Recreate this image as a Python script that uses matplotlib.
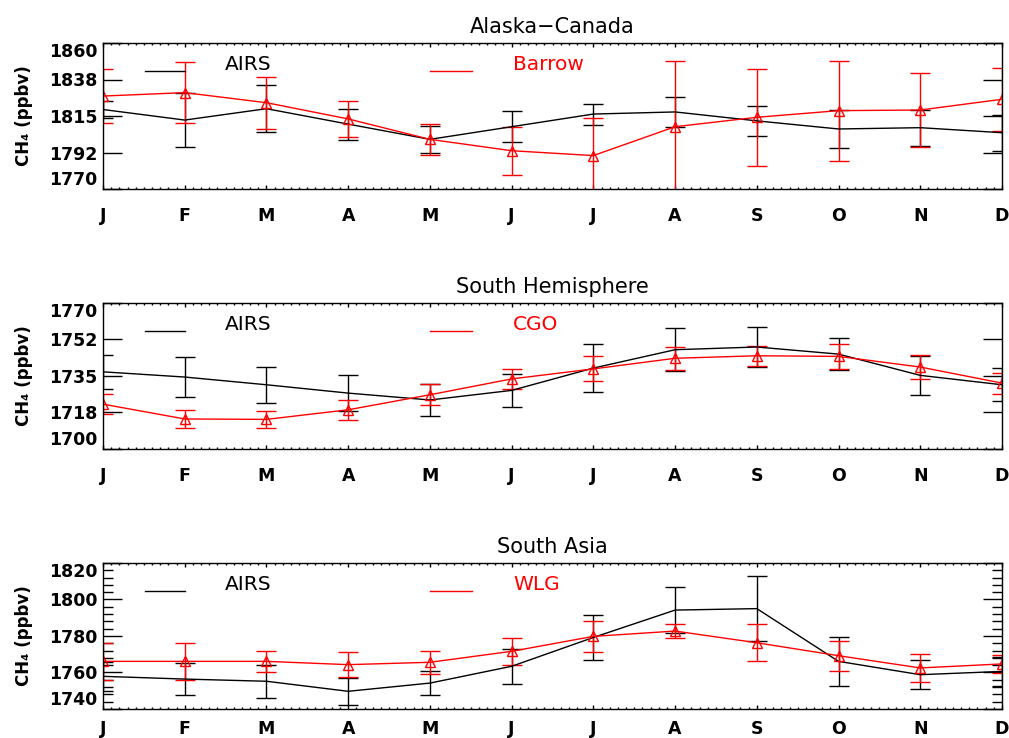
import numpy as np
import matplotlib
matplotlib.use('Agg')
import matplotlib.pyplot as plt
from matplotlib.ticker import FixedLocator, MultipleLocator

# dados mensais (ppbv)
months = ['J', 'F', 'M', 'A', 'M', 'J', 'J', 'A', 'S', 'O', 'N', 'D']

titles = ['Alaska\u2212Canada', 'South Hemisphere', 'South Asia']
station_names = ['Barrow', 'CGO', 'WLG']

# Alaska-Canada
airs_ak = [1819.0, 1812.5, 1819.5, 1810.0, 1800.6, 1808.4, 1816.2, 1817.5, 1812.0, 1807.0, 1807.8, 1804.7]
airs_ak_err = [5.0, 16.8, 14.4, 9.6, 8.2, 9.6, 6.5, 9.5, 9.1, 11.5, 11.1, 11.0]
brw = [1827.3, 1829.4, 1823.2, 1813.2, 1800.6, 1793.6, 1790.6, 1808.4, 1814.2, 1818.3, 1818.7, 1825.3]
brw_err = [16.5, 19.0, 16.1, 11.2, 9.5, 14.9, 23.0, 40.5, 30.0, 30.8, 22.8, 19.5]

# South Hemisphere
airs_sh = [1737.0, 1734.5, 1730.8, 1726.8, 1723.5, 1728.1, 1738.8, 1747.6, 1748.9, 1745.5, 1735.3, 1730.8]
airs_sh_err = [8.0, 9.8, 8.6, 8.6, 7.6, 8.0, 11.5, 10.3, 9.6, 7.7, 9.3, 8.0]
cgo = [1721.5, 1714.4, 1714.2, 1718.8, 1726.0, 1733.6, 1738.4, 1743.5, 1744.7, 1744.4, 1739.3, 1731.6]
cgo_err = [4.8, 4.3, 4.1, 4.9, 5.0, 4.6, 6.0, 5.4, 4.8, 6.1, 5.6, 5.0]

# South Asia
airs_sa = [1757.9, 1756.4, 1755.2, 1749.7, 1754.2, 1763.4, 1779.2, 1794.2, 1795.0, 1766.1, 1758.8, 1760.6]
airs_sa_err = [8.0, 9.0, 9.1, 7.5, 6.4, 9.7, 12.1, 12.5, 17.7, 13.3, 7.9, 8.0]
wlg = [1766.1, 1766.1, 1766.1, 1764.3, 1765.6, 1771.6, 1779.8, 1782.7, 1776.3, 1769.2, 1762.5, 1764.7]
wlg_err = [10.2, 10.0, 5.6, 6.7, 6.2, 7.3, 8.6, 3.8, 10.2, 8.2, 7.9, 5.0]

ylims = [(1770, 1860), (1700, 1770), (1740, 1820)]
ytick_labels = [['1770', '1792', '1815', '1838', '1860'],
                ['1700', '1718', '1735', '1752', '1770'],
                ['1740', '1760', '1780', '1800', '1820']]
yminor = [False, False, True]

airs_all = [(airs_ak, airs_ak_err), (airs_sh, airs_sh_err), (airs_sa, airs_sa_err)]
stations_all = [(brw, brw_err), (cgo, cgo_err), (wlg, wlg_err)]

W, H = 1009, 738
fig = plt.figure(figsize=(W / 100, H / 100), dpi=100)

# eixos: topo em pixels 43, 303, 563 ; altura 146 px
tops = [43, 303, 563]
xpads = [13, 13, 8]   # o ultimo painel fica colado na borda de baixo
x = np.arange(len(months))

for i in range(3):
    top = tops[i]
    ax = fig.add_axes([103 / W, 1 - (top + 146) / H, 899 / W, 146 / H])

    a, ae = airs_all[i]
    s, se = stations_all[i]

    ax.errorbar(x, a, yerr=ae, color='black', lw=1.0, elinewidth=1.0,
                capsize=7.5, capthick=1.0)
    ax.errorbar(x, s, yerr=se, color='red', lw=1.0, elinewidth=1.0,
                capsize=7.5, capthick=1.0, marker='^', mfc='none',
                mec='red', ms=7, mew=1.0)

    ax.set_xlim(0, 11)
    ax.set_ylim(*ylims[i])

    yt = np.linspace(ylims[i][0], ylims[i][1], 5)
    ax.yaxis.set_major_locator(FixedLocator(yt))
    ax.set_yticklabels(ytick_labels[i], fontsize=12.5, fontweight='bold')
    labs = ax.get_yticklabels()
    labs[0].set_va('bottom')
    labs[-1].set_va('top')
    if yminor[i]:
        ax.yaxis.set_minor_locator(MultipleLocator(4))

    ax.set_xticks(x)
    ax.set_xticklabels(months, fontsize=12.5, fontweight='bold')
    ax.xaxis.set_minor_locator(MultipleLocator(0.1))

    ax.tick_params(axis='x', which='major', direction='in', length=3,
                   width=1, top=True, pad=xpads[i])
    ax.tick_params(axis='x', which='minor', direction='in', length=1.5,
                   width=1, top=True)
    ax.tick_params(axis='y', which='major', direction='in', length=14,
                   width=1, right=True, pad=4)
    ax.tick_params(axis='y', which='minor', direction='in', length=7,
                   width=1, right=True)

    for sp in ax.spines.values():
        sp.set_linewidth(1.0)

    ax.set_ylabel('CH\u2084 (ppbv)', fontsize=12, fontweight='bold')
    ax.yaxis.set_label_coords(-0.078, 0.5)
    ax.set_title(titles[i], fontsize=15, pad=7)

    # legenda no estilo IDL
    ax.plot([0.047, 0.091], [0.81, 0.81], color='black', lw=1.0,
            transform=ax.transAxes)
    ax.text(0.136, 0.85, 'AIRS', color='black', fontsize=14.5,
            va='center', ha='left', transform=ax.transAxes)
    ax.plot([0.364, 0.410], [0.81, 0.81], color='red', lw=1.0,
            transform=ax.transAxes)
    ax.text(0.456, 0.85, station_names[i], color='red', fontsize=14.5,
            va='center', ha='left', transform=ax.transAxes)

fig.savefig('out.png', dpi=100)
